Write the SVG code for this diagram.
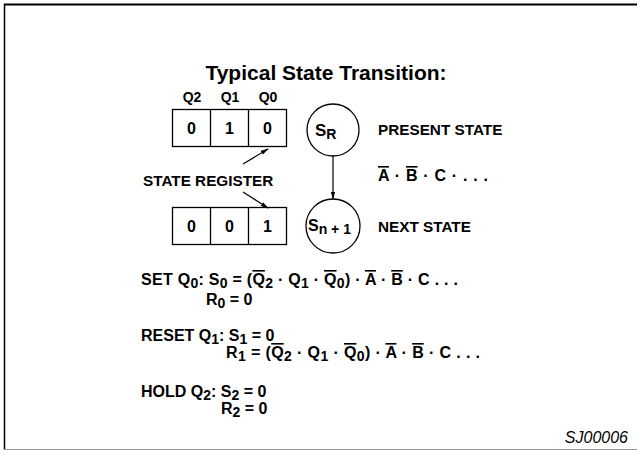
<svg xmlns="http://www.w3.org/2000/svg" width="637" height="456" viewBox="0 0 637 456">
<style>
text{font-family:"Liberation Sans",Arial,sans-serif;font-weight:bold;fill:#000}
.t{font-size:15.3px}
.q{font-size:14px;text-anchor:middle}
.e{font-size:16px}
.v{font-size:16px;text-anchor:middle}
.box{fill:none;stroke:#000;stroke-width:1.3}
.ln{stroke:#000;stroke-width:1.2;fill:none}
.ov{text-decoration:overline}
.sub{font-size:14px}
.id{font-size:16px;font-style:italic;font-weight:normal}
</style>
<defs>
<marker id="ah" viewBox="0 0 10 10" refX="9" refY="5" markerWidth="8" markerHeight="6" orient="auto" markerUnits="userSpaceOnUse" preserveAspectRatio="none">
<path d="M0,1.5 L10,5 L0,8.5 Z" fill="#000"/>
</marker>
</defs>
<rect width="637" height="456" fill="#fff"/>
<g id="frame">
<line x1="4" y1="4.5" x2="637" y2="4.5" stroke="#000" stroke-width="2"/>
<line x1="4.5" y1="4" x2="4.5" y2="450" stroke="#000" stroke-width="1.5"/>
<line x1="4" y1="449.5" x2="637" y2="449.5" stroke="#999" stroke-width="1"/>
</g>
<text x="326" y="80" font-size="21" text-anchor="middle">Typical State Transition:</text>
<g id="reg1">
<text x="192" y="102" class="q">Q2</text>
<text x="230" y="102" class="q">Q1</text>
<text x="268" y="102" class="q">Q0</text>
<rect x="172.5" y="109.5" width="114" height="37" class="box"/>
<line x1="210.5" y1="109.5" x2="210.5" y2="146.5" class="box"/>
<line x1="248.5" y1="109.5" x2="248.5" y2="146.5" class="box"/>
<text x="191.5" y="134" class="v">0</text>
<text x="229.5" y="134" class="v">1</text>
<text x="267.5" y="134" class="v">0</text>
</g>
<g id="reg2">
<rect x="172.5" y="207.5" width="114" height="37" class="box"/>
<line x1="210.5" y1="207.5" x2="210.5" y2="244.5" class="box"/>
<line x1="248.5" y1="207.5" x2="248.5" y2="244.5" class="box"/>
<text x="191.5" y="232" class="v">0</text>
<text x="229.5" y="232" class="v">0</text>
<text x="267.5" y="232" class="v">1</text>
</g>
<g id="label">
<text x="143" y="186" class="t">STATE REGISTER</text>
</g>
<g id="sr">
<circle cx="333" cy="130" r="26" class="box"/>
<text x="315" y="136" font-size="17">S<tspan font-size="14" dy="3">R</tspan></text>
<text x="378" y="135" class="t">PRESENT STATE</text>
</g>
<g id="cond">
<text x="378" y="181" class="e" textLength="110"><tspan class="ov">A</tspan> · <tspan class="ov">B</tspan> · C · . . .</text>
</g>
<g id="sn1">
<circle cx="333" cy="226" r="27" class="box"/>
<text x="308" y="231" font-size="16">S<tspan font-size="14" dy="3">n + 1</tspan></text>
<text x="378" y="232" class="t">NEXT STATE</text>
</g>
<g id="connectors">
<line x1="333" y1="156" x2="333" y2="199" class="ln" marker-end="url(#ah)"/>
<line x1="243" y1="164" x2="268" y2="149" class="ln" marker-end="url(#ah)"/>
<line x1="243" y1="192" x2="268" y2="208" class="ln" marker-end="url(#ah)"/>
</g>
<g id="eqs">
<text x="141" y="285" class="e" textLength="317">SET Q<tspan class="sub" dy="3">0</tspan><tspan dy="-3">: S</tspan><tspan class="sub" dy="3">0</tspan><tspan dy="-3"> = (</tspan><tspan class="ov">Q</tspan><tspan class="sub" dy="3">2</tspan><tspan dy="-3"> · Q</tspan><tspan class="sub" dy="3">1</tspan><tspan dy="-3"> · </tspan><tspan class="ov">Q</tspan><tspan class="sub" dy="3">0</tspan><tspan dy="-3">) · </tspan><tspan class="ov">A</tspan> · <tspan class="ov">B</tspan> · C . . .</text>
<text x="206" y="305" class="e">R<tspan class="sub" dy="3">0</tspan><tspan dy="-3"> = 0</tspan></text>
<text x="141" y="341" class="e">RESET Q<tspan class="sub" dy="3">1</tspan><tspan dy="-3">: S</tspan><tspan class="sub" dy="3">1</tspan><tspan dy="-3"> = 0</tspan></text>
<text x="226" y="358" class="e" textLength="254">R<tspan class="sub" dy="3">1</tspan><tspan dy="-3"> = (</tspan><tspan class="ov">Q</tspan><tspan class="sub" dy="3">2</tspan><tspan dy="-3"> · Q</tspan><tspan class="sub" dy="3">1</tspan><tspan dy="-3"> · </tspan><tspan class="ov">Q</tspan><tspan class="sub" dy="3">0</tspan><tspan dy="-3">) · </tspan><tspan class="ov">A</tspan> · <tspan class="ov">B</tspan> · C . . .</text>
<text x="141" y="397" class="e">HOLD Q<tspan class="sub" dy="3">2</tspan><tspan dy="-3">: S</tspan><tspan class="sub" dy="3">2</tspan><tspan dy="-3"> = 0</tspan></text>
<text x="221" y="414" class="e">R<tspan class="sub" dy="3">2</tspan><tspan dy="-3"> = 0</tspan></text>
</g>
<text x="628" y="443" class="id" text-anchor="end">SJ00006</text>
</svg>
